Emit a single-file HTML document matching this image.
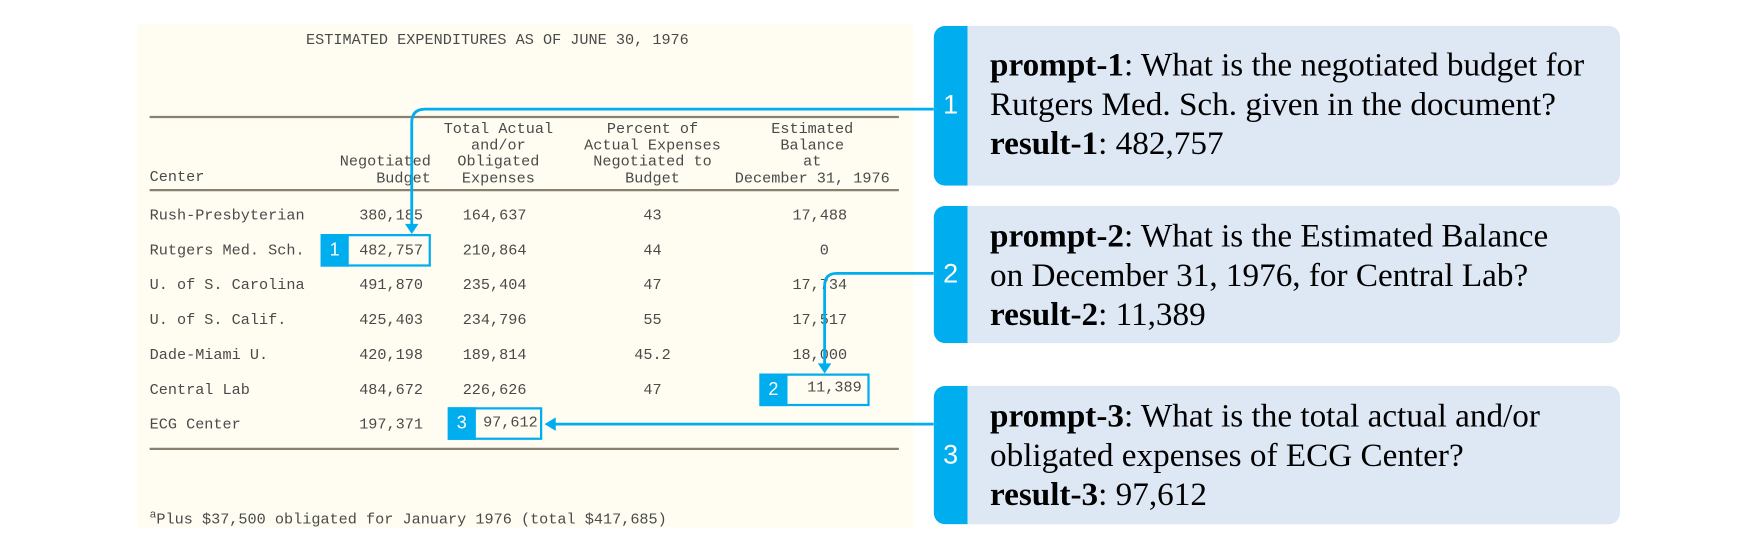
<!DOCTYPE html>
<html><head><meta charset="utf-8"><style>
html,body{margin:0;padding:0}
body{width:1764px;height:542px;background:#fff;position:relative;overflow:hidden}
#w{position:absolute;left:0;top:0;width:1568px;height:482px;transform:scale(1.125);transform-origin:0 0}
.doc{position:absolute;left:122px;top:21px;width:690px;height:448px;background:#fffdf2}
.t{position:absolute;font-family:"Liberation Mono",monospace;font-size:13.5px;color:#4a4a4a;white-space:nowrap;line-height:14.5px}
.c{text-align:center;transform:translateX(-50%)}
.r{text-align:right;transform:translateX(-100%)}
.rule{position:absolute;left:133px;width:666px;height:2px;background:#8a8070}
.hb{position:absolute;border:2px solid #00aeef;box-sizing:border-box}
.tab{position:absolute;background:#00aeef;color:#fff;font-family:"Liberation Sans",sans-serif;text-align:center}
.cb{position:absolute;left:830px;width:610px;background:#dee8f5;border-radius:10px;overflow:hidden}
.cb .tab{left:0;top:0;bottom:0;width:30px;font-size:24px;display:flex;align-items:center;justify-content:center;border-radius:10px 0 0 10px}
.cb .tx{position:absolute;left:50px;font-family:"Liberation Serif",serif;font-size:29.5px;line-height:35px;color:#000;white-space:nowrap}
</style></head><body><div id="w">
<div class="doc"></div>
<div class="t" style="left:272px;top:30px">ESTIMATED EXPENDITURES AS OF JUNE 30, 1976</div>
<div class="rule" style="top:103px"></div>
<div class="t c" style="left:443px;top:109px">Total Actual<br>and/or<br>Obligated<br>Expenses</div>
<div class="t c" style="left:580px;top:109px">Percent of<br>Actual Expenses<br>Negotiated to<br>Budget</div>
<div class="t c" style="left:722px;top:109px">Estimated<br>Balance<br>at<br>December 31, 1976</div>
<div class="t r" style="left:383px;top:138px">Negotiated<br>Budget</div>
<div class="t" style="left:133px;top:152px">Center</div>
<div class="rule" style="top:168px"></div>
<div class="t" style="left:133px;top:177px;line-height:31px">Rush-Presbyterian<br>Rutgers Med. Sch.<br>U. of S. Carolina<br>U. of S. Calif.<br>Dade-Miami U.<br>Central Lab<br>ECG Center</div>
<div class="t r" style="left:376px;top:177px;line-height:31px">380,185<br>482,757<br>491,870<br>425,403<br>420,198<br>484,672<br>197,371</div>
<div class="t r" style="left:468px;top:177px;line-height:31px">164,637<br>210,864<br>235,404<br>234,796<br>189,814<br>226,626<br>&nbsp;</div>
<div class="t r" style="left:478px;top:370px">97,612</div>
<div class="t c" style="left:580px;top:177px;line-height:31px">43<br>44<br>47<br>55<br>45.2<br>47<br>&nbsp;</div>
<div class="t r" style="left:753px;top:177px;line-height:31px">17,488<br>0&nbsp;&nbsp;<br>17,734<br>17,517<br>18,000<br>&nbsp;<br>&nbsp;</div>
<div class="t r" style="left:766px;top:339px">11,389</div>
<div class="rule" style="top:398px"></div>
<div class="t" style="left:133px;top:452px"><sup style="font-size:10px">a</sup>Plus $37,500 obligated for January 1976 (total $417,685)</div>

<div class="hb" style="left:285px;top:208px;width:98px;height:29px"></div>
<div class="tab" style="left:285px;top:208px;width:25px;height:29px;font-size:16px;line-height:29px">1</div>
<div class="hb" style="left:675px;top:332px;width:98px;height:29px"></div>
<div class="tab" style="left:675px;top:332px;width:25px;height:29px;font-size:16px;line-height:29px">2</div>
<div class="hb" style="left:398px;top:362px;width:84px;height:29px"></div>
<div class="tab" style="left:398px;top:362px;width:25px;height:29px;font-size:16px;line-height:29px">3</div>

<svg style="position:absolute;left:0;top:0" width="1568" height="482">
<g fill="none" stroke="#00aeef" stroke-width="2.5">
<path d="M842 97 H378 Q366 97 366 109 V200"/>
<path d="M830 243 H744 Q733 243 733 254 V324"/>
<path d="M830 377 H492"/>
</g>
<g fill="#00aeef">
<path d="M360 199 L372 199 L366 208Z"/>
<path d="M727 323 L739 323 L733 332Z"/>
<path d="M484 377 L494 371 L494 383Z"/>
</g>
</svg>

<div class="cb" style="top:23px;height:142px"><div class="tab">1</div>
<div class="tx" style="top:18px"><b>prompt-1</b>: What is the negotiated budget for<br>Rutgers Med. Sch. given in the document?<br><b>result-1</b>: 482,757</div></div>
<div class="cb" style="top:183px;height:122px"><div class="tab">2</div>
<div class="tx" style="top:10px"><b>prompt-2</b>: What is the Estimated Balance<br>on December 31, 1976, for Central Lab?<br><b>result-2</b>: 11,389</div></div>
<div class="cb" style="top:343px;height:123px"><div class="tab">3</div>
<div class="tx" style="top:10px"><b>prompt-3</b>: What is the total actual and/or<br>obligated expenses of ECG Center?<br><b>result-3</b>: 97,612</div></div>
</div></body></html>
